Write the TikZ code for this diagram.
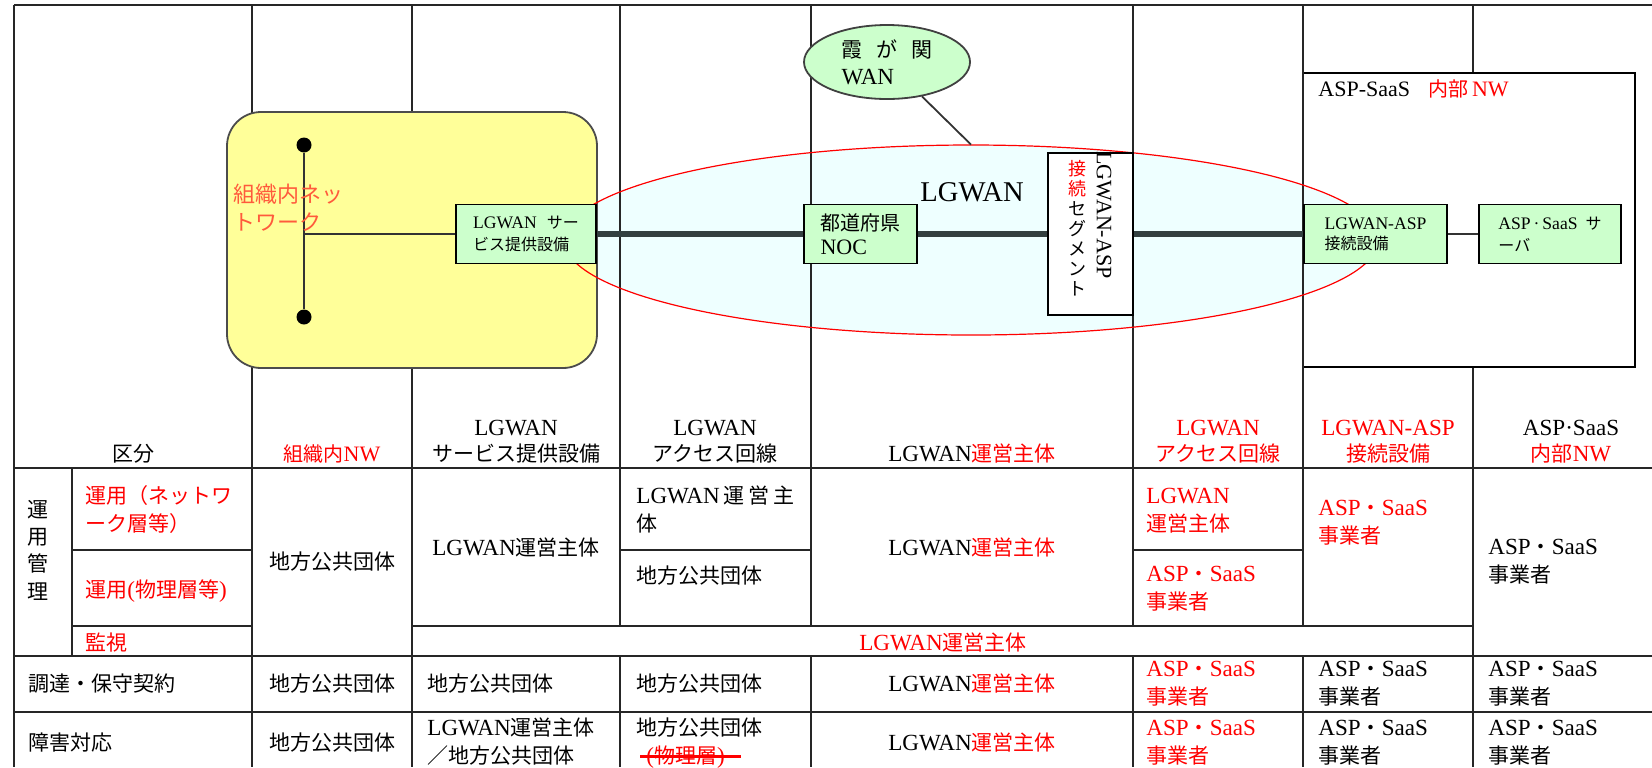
\documentclass[tikz,border=0pt]{standalone}
\usepackage{fontspec}
\setmainfont{Liberation Serif}[Scale=1.1]
\newfontfamily\jp{Noto Sans CJK JP}
\usetikzlibrary{shapes.geometric}
\definecolor{boxgreen}{HTML}{CCFFCC}
\definecolor{intrayellow}{HTML}{FFFF99}
\definecolor{lgwanfill}{HTML}{EEFFFF}
\definecolor{busgray}{HTML}{334040}
\definecolor{nwred}{HTML}{FF5A3C}
\newcommand{\rj}[1]{\textcolor{red}{\jp #1}}
\newcommand{\aspop}{ASP{\jp ・}SaaS\\{\jp 事業者}}

\begin{document}
\begin{tikzpicture}[x=0.5pt, y=-0.5pt]
\tikzset{
  grid/.style={line width=0.9pt, black!85},
  link/.style={line width=0.9pt, black!80},
  bus/.style={line width=3pt, busgray},
  strike/.style={line width=1.4pt, red},
  dot/.style={circle, fill=black, inner sep=0pt, minimum size=7.5pt},
  box/.style={draw=black, line width=0.9pt, fill=boxgreen, inner sep=0pt, minimum height=29.5pt, align=left},
  lgwanshape/.style={ellipse, inner sep=0pt, minimum width=407pt, minimum height=95pt},
  head/.style={anchor=base, align=center, inner sep=0pt, font=\fontsize{10.5}{13}\selectfont},
  cell/.style={anchor=base west, align=left, inner sep=0pt, font=\fontsize{10.5}{14}\selectfont},
  mid/.style={cell, anchor=base, align=center}
}
\pgfmathsetmacro{\colleft}{14}
\pgfmathsetmacro{\colsub}{72}
\pgfmathsetmacro{\colnw}{252}
\pgfmathsetmacro{\colsvc}{412}
\pgfmathsetmacro{\colacc}{620}
\pgfmathsetmacro{\colops}{811}
\pgfmathsetmacro{\colasp}{1133}
\pgfmathsetmacro{\colcon}{1303}
\pgfmathsetmacro{\colsaas}{1473}
\pgfmathsetmacro{\colright}{1652}
\pgfmathsetmacro{\rowtop}{5}
\pgfmathsetmacro{\rowhead}{468}
\pgfmathsetmacro{\rownet}{550}
\pgfmathsetmacro{\rowphy}{626}
\pgfmathsetmacro{\rowmon}{656}
\pgfmathsetmacro{\rowproc}{712}
\pgfmathsetmacro{\rowbot}{767}

\useasboundingbox (0,0) rectangle (\colright,\rowbot);
\clip (0,0) rectangle (\colright,\rowbot);

\node[lgwanshape, fill=lgwanfill] (lgwan) at (971,240) {};
\node[draw=black, line width=0.9pt, minimum width=166pt, minimum height=147pt, inner sep=0pt] (saasnw) at (1469,220) {};

% table
\draw[grid] (\colleft,\rowtop) -- (\colleft,\rowbot);
\draw[grid] (\colsub,\rowhead) -- (\colsub,\rowmon);
\foreach \x in {\colnw,\colsvc} \draw[grid] (\x,\rowtop) -- (\x,\rowbot);
\draw[grid] (\colsaas,\rowtop) -- (saasnw.north -| \colsaas,0);
\draw[grid] (saasnw.south -| \colsaas,0) -- (\colsaas,\rowbot);
\foreach \x in {\colacc,\colops,\colasp,\colcon} {
  \draw[grid] (\x,\rowtop) -- (\x,\rowphy);
  \draw[grid] (\x,\rowmon) -- (\x,\rowbot);
}
\foreach \y in {\rowtop,\rowhead,\rowmon,\rowproc} \draw[grid] (\colleft,\y) -- (\colright,\y);
\draw[grid] (\colsub,\rownet) -- (\colnw,\rownet);
\draw[grid] (\colacc,\rownet) -- (\colops,\rownet);
\draw[grid] (\colasp,\rownet) -- (\colcon,\rownet);
\draw[grid] (\colsub,\rowphy) -- (\colnw,\rowphy);
\draw[grid] (\colsvc,\rowphy) -- (\colsaas,\rowphy);

% network
\node[draw=black!70, line width=0.9pt, fill=intrayellow, rounded corners=17pt, minimum width=185pt, minimum height=128pt, inner sep=0pt] (intra) at (412,240) {};
\node[dot] (bustop) at (304,145) {};
\node[dot] (busbot) at (304,317) {};
\draw[link] (bustop) -- (busbot);
\coordinate (tap) at (304,234);
\node[anchor=base west, align=left, inner sep=0pt, text=nwred, font=\jp\fontsize{11}{14}\selectfont] (intralabel) at (233,230) {組織内ネッ\\トワーク};

\node[lgwanshape, draw=red, line width=0.6pt] (lgwanrim) at (lgwan) {};
\node[font=\fontsize{13}{15}\selectfont] (lgwanlabel) at (972,192) {LGWAN};

\node[ellipse, draw=black!75, line width=0.9pt, fill=boxgreen, minimum width=83pt, minimum height=37pt, inner sep=0pt, align=left, font=\fontsize{10.5}{13.5}\selectfont] (kasumi) at (887,62) {{\jp 霞\hspace{7pt}が\hspace{7pt}関}\\WAN};
\draw[link] (kasumi) -- (lgwan.north);

\node[anchor=base west, inner sep=0pt, font=\fontsize{10}{12}\selectfont] (saasnwlabel) at (1318,96) {ASP-SaaS\hspace{9pt}\rj{内部}\hspace{2pt}\textcolor{red}{NW}};

\node[box, minimum width=70pt, font=\fontsize{8}{11}\selectfont] (svc) at (526,234) {LGWAN\hspace{5pt}{\jp サー}\\{\jp ビス提供設備}};
\node[box, minimum width=56.5pt, font=\fontsize{10}{12}\selectfont] (noc) at (860.5,234) {{\jp 都道府県}\\NOC};
\node[draw=black, line width=0.9pt, fill=white, minimum width=42.5pt, minimum height=81pt, inner sep=0pt] (seg) at (1090.5,234) {};
\node[rotate=-90, inner sep=0pt, font=\fontsize{10}{12}\selectfont] (segasp) at (1104,215) {LGWAN-ASP};
\node[anchor=base, align=center, inner sep=0pt, font=\jp\fontsize{9}{10}\selectfont] (segjp) at (1077,295) {\textcolor{red}{接}\\\textcolor{red}{続}\\セ\\グ\\メ\\ン\\ト};
\node[box, minimum width=71.5pt, font=\fontsize{8}{10}\selectfont] (aspcon) at (1375.5,234) {LGWAN-ASP\\{\jp 接続設備}};
\node[box, minimum width=71pt, font=\fontsize{8}{11}\selectfont] (server) at (1550,234) {ASP\,·\,SaaS\hspace{4pt}{\jp サ}\\{\jp ーバ}};

\draw[link] (tap) -- (svc);
\draw[bus] (svc) -- (noc);
\draw[bus] (noc) -- (seg);
\draw[bus] (seg) -- (aspcon);
\draw[link] (aspcon) -- (server);

% header
\node[head] (hdiv) at (133,461) {\jp 区分};
\node[head, font=\fontsize{10}{13}\selectfont] (hnw) at (332,461) {\rj{組織内}\textcolor{red}{NW}};
\node[head] (hsvc) at (516,461) {LGWAN\\{\jp サービス提供設備}};
\node[head] (hacc) at (715,461) {LGWAN\\{\jp アクセス回線}};
\node[head] (hops) at (972,461) {LGWAN\rj{運営主体}};
\node[head, text=red] (hacc2) at (1218,461) {LGWAN\\{\jp アクセス回線}};
\node[head, text=red] (hcon) at (1388,461) {LGWAN-ASP\\{\jp 接続設備}};
\node[head] (hsaas) at (1571,461) {ASP·SaaS\\\rj{内部}\textcolor{red}{NW}};

% body
\node[mid, font=\jp\fontsize{10.5}{13.65}\selectfont] (opsmgmt) at (38,599) {運\\用\\管\\理};
\node[cell, text=red] (opnet) at (85,531) {{\jp 運用（ネットワ}\\{\jp ーク層等）}};
\node[cell, text=red] (opphy) at (85,597) {{\jp 運用}({\jp 物理層等})};
\node[cell, text=red] (opmon) at (85,650) {\jp 監視};
\node[cell] (proc) at (28,691) {\jp 調達・保守契約};
\node[cell] (fail) at (28,750) {\jp 障害対応};

\node[mid] (nwops) at (332,569) {\jp 地方公共団体};
\node[mid] (nwproc) at (332,691) {\jp 地方公共団体};
\node[mid] (nwfail) at (332,750) {\jp 地方公共団体};

\node[mid] (svcops) at (516,555) {LGWAN{\jp 運営主体}};
\node[cell] (svcproc) at (427,691) {\jp 地方公共団体};
\node[cell] (svcfail) at (427,763) {LGWAN{\jp 運営主体}\\{\jp ／地方公共団体}};

\node[cell] (accnet) at (636,531) {LGWAN\hspace{2pt}{\jp 運\hspace{2pt}営\hspace{2pt}主}\\{\jp 体}};
\node[cell] (accphy) at (636,583) {\jp 地方公共団体};
\node[cell] (accproc) at (636,691) {\jp 地方公共団体};
\node[cell] (accfail) at (636,735) {\jp 地方公共団体};
\node[cell, text=red] (accstrike) at (646,763) {({\jp 物理層})};
\draw[strike] ([xshift=-3pt]accstrike.west) -- ([xshift=8pt]accstrike.east);

\node[mid] (opsops) at (972,555) {LGWAN\rj{運営主体}};
\node[mid] (opsproc) at (972,691) {LGWAN\rj{運営主体}};
\node[mid] (opsfail) at (972,750) {LGWAN\rj{運営主体}};
\node[mid, text=red] (monitor) at (943,650) {LGWAN{\jp 運営主体}};

\node[cell, text=red] (acc2net) at (1146,531) {LGWAN\\{\jp 運営主体}};
\node[cell, text=red] (acc2phy) at (1146,609) {\aspop};
\node[cell, text=red] (acc2proc) at (1146,704) {\aspop};
\node[cell, text=red] (acc2fail) at (1146,763) {\aspop};

\node[cell, text=red] (conops) at (1318,543) {\aspop};
\node[cell] (conproc) at (1318,704) {\aspop};
\node[cell] (confail) at (1318,763) {\aspop};

\node[cell] (saasops) at (1488,582) {\aspop};
\node[cell] (saasproc) at (1488,704) {\aspop};
\node[cell] (saasfail) at (1488,763) {\aspop};
\end{tikzpicture}
\end{document}
